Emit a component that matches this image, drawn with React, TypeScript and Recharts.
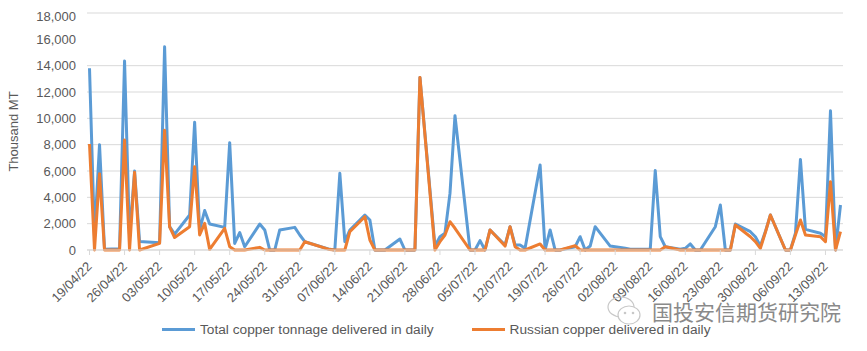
import { LineChart, Line, XAxis, YAxis, CartesianGrid, Legend, Label } from 'recharts';

// day offsets from 19/04/22 (trading days only)
const days = [
  0, 1, 2, 3, 6, 7, 8, 9, 10, 14, 15, 16, 17, 20, 21, 22, 23, 24, 27, 28, 29, 30, 31, 34, 35, 36, 37, 38,
  41, 42, 43, 48, 49, 50, 51, 52, 55, 56, 57, 58, 59, 62, 63, 64, 65, 66, 69, 70, 71, 72, 73, 76, 77, 78,
  79, 80, 83, 84, 85, 86, 87, 90, 91, 92, 93, 94, 97, 98, 99, 100, 101, 104, 105, 106, 107, 108, 111, 112,
  113, 114, 115, 118, 119, 120, 121, 122, 125, 126, 127, 128, 129, 132, 133, 134, 135, 136, 139, 140, 141,
  142, 143, 146, 147, 148, 149, 150,
];

const totalTonnage = [
  13800, 1000, 8000, 50, 100, 14350, 1000, 6000, 650, 550, 15440, 1770, 1200, 2660, 9700, 1500, 3000, 1970,
  1720, 8150, 500, 1320, 250, 1970, 1520, 0, 0, 1520,
  1720, 1140, 630, 50, 0, 5820, 630, 1520, 2660, 2280, 0, 0, 0, 835, 0, 0, 0, 13100, 300, 1010, 1270, 4300,
  10200, 0, 0, 710,
  0, 1520, 380, 1770, 380, 380, 130, 6460, 0, 1520, 0, 0, 250, 1010, 0, 300, 1770, 300, 250, 200, 130, 50,
  50, 50,
  6030, 1010, 250, 50, 130, 460, 0, 0, 1770, 3420, 0, 0, 1970, 1390, 1010, 300, 1400, 2660, 0, 0, 1270,
  6880, 1570, 1270, 1010, 10580, 0, 3420,
];

const russianTonnage = [
  8050, 0, 5800, 0, 0, 8350, 0, 5900, 0, 500, 9100, 1750, 950, 1770, 6330, 1140, 2020, 50,
  1650, 250, 0, 0, 0, 200, 0, 0, 0, 0,
  0, 0, 630, 30, 0, 0, 0, 1390, 2530, 760, 0, 0, 0, 0, 0, 0, 0, 13110, 0, 630, 1140, 2150,
  1650, 0, 0, 0,
  0, 1520, 300, 1770, 250, 0, 0, 460, 0, 0, 0, 0, 330, 0, 0, 0, 0, 0, 0, 0, 0, 0,
  0, 0,
  0, 0, 250, 0, 0, 0, 0, 0, 0, 0, 0, 0, 1900, 1010, 630, 130, 1350, 2660, 0, 0, 1140,
  2280, 1140, 1010, 630, 5190, 0, 1390,
];

const weekLabels = [
  '19/04/22', '26/04/22', '03/05/22', '10/05/22', '17/05/22', '24/05/22', '31/05/22', '07/06/22',
  '14/06/22', '21/06/22', '28/06/22', '05/07/22', '12/07/22', '19/07/22', '26/07/22', '02/08/22',
  '09/08/22', '16/08/22', '23/08/22', '30/08/22', '06/09/22', '13/09/22',
];

const yTicks = [0, 2000, 4000, 6000, 8000, 10000, 12000, 14000, 16000, 18000];

const data = days.map((d, i) => ({ d, total: totalTonnage[i], russian: russianTonnage[i] }));
const xTicks = weekLabels.map((_, i) => i * 7);

const FONT = '"Liberation Sans", Arial, sans-serif';
const TEXT = '#595959';
const BLUE = '#5B9BD5';
const ORANGE = '#ED7D31';

const DateTick = ({ x, y, payload }: any) => (
  <g transform={`translate(${x},${y + 7})`}>
    <text
      x={0}
      y={0}
      dy="0.35em"
      textAnchor="end"
      transform="rotate(-45)"
      fill={TEXT}
      fontSize={13}
      fontFamily={FONT}
    >
      {weekLabels[Math.round(payload.value / 7)]}
    </text>
  </g>
);

const LegendBox = () => (
  <div
    style={{
      display: 'flex',
      alignItems: 'center',
      height: 30,
      paddingTop: 3,
      boxSizing: 'border-box',
      paddingLeft: 154,
      fontFamily: FONT,
      fontSize: 13.7,
      color: TEXT,
      whiteSpace: 'nowrap',
    }}
  >
    <span style={{ display: 'inline-block', width: 33, height: 3, background: BLUE, marginRight: 5 }} />
    <span>Total copper tonnage delivered in daily</span>
    <span
      style={{ display: 'inline-block', width: 33, height: 3, background: ORANGE, marginLeft: 38, marginRight: 5 }}
    />
    <span>Russian copper delivered in daily</span>
  </div>
);

const Watermark = () => (
  <div style={{ position: 'absolute', left: 604, top: 286, display: 'flex', alignItems: 'center' }}>
    <svg width={40} height={34}>
      <ellipse cx={17} cy={13} rx={13} ry={10} fill="none" stroke="#c8c8c8" strokeWidth={1.2} />
      <ellipse cx={25} cy={21} rx={11} ry={9} fill="#fff" stroke="#c8c8c8" strokeWidth={1.2} />
      <circle cx={21} cy={19} r={1.3} fill="#c8c8c8" />
      <circle cx={29} cy={19} r={1.3} fill="#c8c8c8" />
    </svg>
    <span
      style={{
        fontFamily: '"Noto Sans CJK SC", sans-serif',
        fontSize: 21,
        color: '#8a8a8a',
        marginLeft: 8,
      }}
    >
      国投安信期货研究院
    </span>
  </div>
);

const YTitle = ({ viewBox }: any) => {
  const cx = viewBox.x + 10;
  const cy = viewBox.y + viewBox.height / 2;
  return (
    <text
      x={cx}
      y={cy}
      textAnchor="middle"
      transform={`rotate(-90, ${cx}, ${cy})`}
      fill={TEXT}
      fontSize={13}
      fontFamily={FONT}
    >
      Thousand MT
    </text>
  );
};

export default function App() {
  return (
    <div style={{ position: 'relative', width: 859, height: 335, marginLeft: -8 }}>
      <LineChart width={859} height={335} data={data} margin={{ top: 5, right: 16, left: 8, bottom: 0 }}>
        <CartesianGrid vertical={false} stroke="#d9d9d9" />
        <XAxis
          dataKey="d"
          type="number"
          domain={[-0.5, 150.5]}
          ticks={xTicks}
          interval={0}
          height={63}
          tick={<DateTick />}
          stroke="#d9d9d9"
          tickSize={5}
        />
        <YAxis
          width={79}
          domain={[0, 18000]}
          ticks={yTicks}
          axisLine={false}
          tickLine={false}
          tickMargin={5}
          tickFormatter={(v: number) => v.toLocaleString('en-US')}
          tick={{ fill: TEXT, fontSize: 13, fontFamily: FONT }}
        >
          <Label content={<YTitle />} />
        </YAxis>
        <Legend verticalAlign="bottom" height={30} content={<LegendBox />} />
        <Line
          type="linear"
          dataKey="total"
          stroke={BLUE}
          strokeWidth={3}
          dot={false}
          isAnimationActive={false}
          strokeLinejoin="round"
        />
        <Line
          type="linear"
          dataKey="russian"
          stroke={ORANGE}
          strokeWidth={3}
          dot={false}
          isAnimationActive={false}
          strokeLinejoin="round"
        />
      </LineChart>
      <Watermark />
    </div>
  );
}
